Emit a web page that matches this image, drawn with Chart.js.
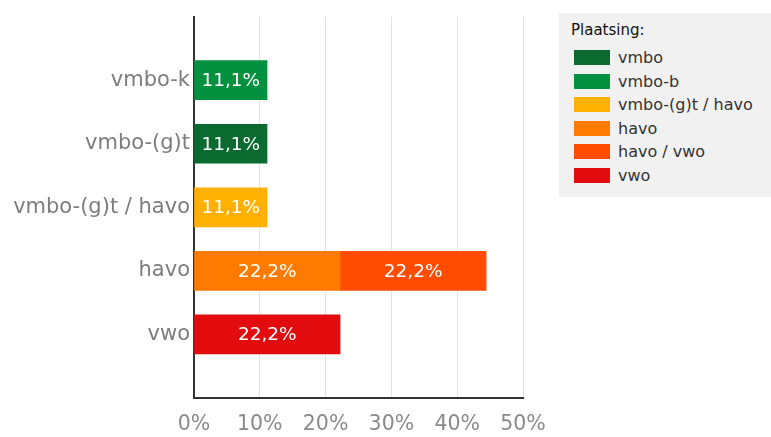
<!DOCTYPE html>
<html>
<head>
<meta charset="utf-8">
<script src="https://cdn.jsdelivr.net/npm/chart.js@4/dist/chart.umd.min.js"></script>
<style>
  body{ margin:0; background:#fff; font-family:"DejaVu Sans", sans-serif; }
  #wrap{ position:relative; width:771px; height:437px; }
  #legend{ position:absolute; left:559px; top:13px; width:212px; height:184px; background:#f1f1f1; }
  #legend .ttl{ position:absolute; left:12px; top:10px; font-size:15px; line-height:15px; color:#111; }
  #legend .row{ position:absolute; left:15px; height:15px; font-size:16px; color:#333; line-height:15px; white-space:nowrap; }
  #legend .sw{ display:inline-block; width:36px; height:15px; vertical-align:top; margin-right:8px; }
</style>
</head>
<body>
<div id="wrap">
  <canvas id="c" width="771" height="437"></canvas>
  <div id="legend"><div class="ttl">Plaatsing:</div></div>
</div>
<script>
const categories = ['vmbo-k', 'vmbo-(g)t', 'vmbo-(g)t / havo', 'havo', 'vwo'];
const seriesNames = ['vmbo', 'vmbo-b', 'vmbo-(g)t / havo', 'havo', 'havo / vwo', 'vwo'];
const seriesColors = ['#0a6a2f', '#03913f', '#ffb000', '#ff7a00', '#ff4c00', '#e20c0e'];
// one value per category, null = no bar
const vmbo      = [null, 11.1, null, null, null];
const vmboB     = [11.1, null, null, null, null];
const vmboGtHavo= [null, null, 11.1, null, null];
const havo      = [null, null, null, 22.2, null];
const havoVwo   = [null, null, null, 22.2, null];
const vwo       = [null, null, null, null, 22.2];
const xTicks = [0, 10, 20, 30, 40, 50];

const seriesValues = [vmbo, vmboB, vmboGtHavo, havo, havoVwo, vwo];

// empty slot above and below, like the original axis
const labels = [''].concat(categories, ['']);
const pad = arr => [null].concat(arr, [null]);

const datasets = seriesNames.map((n, i) => ({
  label: n,
  data: pad(seriesValues[i]),
  backgroundColor: seriesColors[i],
  barThickness: 39
}));

const FONT = '"DejaVu Sans", sans-serif';
const fmt = v => v.toFixed(1).replace('.', ',') + '%';

const valueLabels = {
  id: 'valueLabels',
  afterDatasetsDraw(chart){
    const ctx = chart.ctx;
    ctx.save();
    ctx.fillStyle = '#fff';
    ctx.font = '18.5px ' + FONT;
    ctx.textAlign = 'center';
    ctx.textBaseline = 'middle';
    chart.data.datasets.forEach((ds, di) => {
      chart.getDatasetMeta(di).data.forEach((el, i) => {
        const v = ds.data[i];
        if (v == null) return;
        ctx.fillText(fmt(v), (el.x + el.base) / 2, el.y + 1);
      });
    });
    ctx.restore();
  }
};

new Chart(document.getElementById('c'), {
  type: 'bar',
  data: { labels, datasets },
  options: {
    indexAxis: 'y',
    responsive: false,
    animation: false,
    layout: { padding: { left: 0, right: 248, top: 13, bottom: 0 } },
    plugins: { legend: { display: false }, tooltip: { enabled: false } },
    scales: {
      x: {
        stacked: true,
        min: 0, max: 50,
        afterBuildTicks: s => { s.ticks = xTicks.map(v => ({ value: v })); },
        afterFit: s => { s.height = 39; },
        grid: { color: '#e2e2e2', drawTicks: false },
        border: { color: '#333', width: 2 },
        ticks: { color: '#8a8a8a', padding: 14, font: { size: 20.5, family: FONT }, callback: v => v + '%' }
      },
      y: {
        stacked: true,
        offset: false,
        afterFit: s => { s.width = 194; },
        grid: { display: false, drawTicks: false },
        border: { color: '#333', width: 2 },
        ticks: { color: '#7d7d7d', padding: 4, autoSkip: false, font: { size: 21, family: FONT } }
      }
    }
  },
  plugins: [valueLabels]
});

const leg = document.getElementById('legend');
seriesNames.forEach((n, i) => {
  const r = document.createElement('div');
  r.className = 'row';
  r.style.top = (37 + i * 23.6) + 'px';
  r.innerHTML = `<span class="sw" style="background:${seriesColors[i]}"></span>${n}`;
  leg.appendChild(r);
});
</script>
</body>
</html>
